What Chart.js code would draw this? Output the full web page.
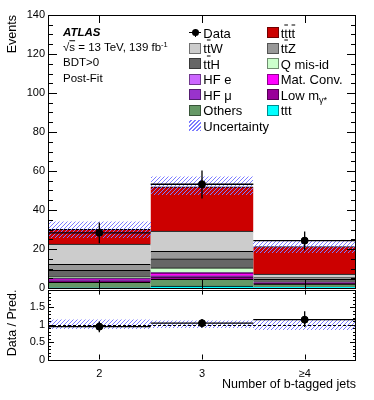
<!DOCTYPE html>
<html>
<head>
<meta charset="utf-8">
<script src="https://cdn.jsdelivr.net/npm/chart.js@4.4.1/dist/chart.umd.min.js"></script>
<style>
  body { margin: 0; background: #fff; font-family: "Liberation Sans", Arial, sans-serif; }
  #wrap { position: relative; width: 374px; height: 400px; overflow: hidden; }
  #mainChart { position: absolute; left: 0; top: 0; }
  #ratioChart { position: absolute; left: 0; top: 280px; }
  .txt { position: absolute; white-space: nowrap; color: #000; line-height: 1; transform: translateY(-50%); z-index: 2; }
  .box { position: absolute; width: 12px; height: 11px; box-sizing: border-box; border: 1px solid rgba(0,0,0,0.45); z-index: 2; }
  .ob { text-decoration: overline; }
  sup { font-size: 0.65em; vertical-align: 0.55em; line-height: 0; }
  sub { font-size: 0.7em; vertical-align: -0.35em; line-height: 0; }
</style>
</head>
<body>
<div id="wrap">
  <canvas id="mainChart" width="374" height="300"></canvas>
  <canvas id="ratioChart" width="374" height="120"></canvas>
</div>
<script>
// bins
const binLabels = ['2', '3', '\u22654'];

// stacked backgrounds, bottom to top (events per bin)
const ttt       = [0.1, 1.0, 0.6];
const others    = [2.8, 3.4, 1.4];
const lowMgamma = [0.7, 1.3, 0.4];
const hfMu      = [0.5, 0.6, 0.2];
const matConv   = [0.5, 1.5, 0.1];
const hfE       = [0.3, 0.3, 0.1];
const qMisId    = [0.8, 2.2, 0.3];
const ttH       = [3.3, 4.6, 1.3];
const ttZ       = [3.1, 3.9, 1.0];
const ttW       = [10.4, 10.4, 1.8];
const tttt      = [7.6, 22.7, 14.1];

// data with errors
const dataVals = [28.3, 53.2, 24.3];
const dataLo   = [23.0, 45.9, 19.3];
const dataHi   = [33.6, 60.2, 29.0];

// total prediction uncertainty
const bandLo = [25.5, 47.5, 18.1];
const bandHi = [34.6, 57.3, 24.4];

// ratio panel
const ratioVals   = [0.94, 1.04, 1.14];
const ratioLo     = [0.78, 0.91, 0.93];
const ratioHi     = [1.09, 1.16, 1.38];
const ratioBandLo = [0.86, 0.91, 0.85];
const ratioBandHi = [1.16, 1.13, 1.16];

const FONT = '"Liberation Sans", Arial, sans-serif';
const HATCH_COLOR = '#7b7bff';

const samples = [
  { key: 'ttt',    data: ttt,       color: '#00ffff', label: 'ttt' },
  { key: 'others', data: others,    color: '#669966', label: 'Others' },
  { key: 'low',    data: lowMgamma, color: '#990099', label: 'Low m<sub>\u03b3*</sub>' },
  { key: 'hfmu',   data: hfMu,      color: '#9933cc', label: 'HF \u03bc' },
  { key: 'mat',    data: matConv,   color: '#ff00ff', label: 'Mat. Conv.' },
  { key: 'hfe',    data: hfE,       color: '#cc66ff', label: 'HF e' },
  { key: 'qmis',   data: qMisId,    color: '#ccffcc', label: 'Q mis-id' },
  { key: 'tth',    data: ttH,       color: '#666666', label: 't<span class="ob">t</span>H' },
  { key: 'ttz',    data: ttZ,       color: '#999999', label: 't<span class="ob">t</span>Z' },
  { key: 'ttw',    data: ttW,       color: '#cccccc', label: 't<span class="ob">t</span>W' },
  { key: 'tttt',   data: tttt,      color: '#cc0000', label: 't<span class="ob">t</span>t<span class="ob">t</span>' },
];

// diagonal "///" hatch inside a rectangle, same phase everywhere
function hatchRect(ctx, x0, y0, w, h) {
  ctx.save();
  ctx.beginPath();
  ctx.rect(x0, y0, w, h);
  ctx.clip();
  ctx.strokeStyle = HATCH_COLOR;
  ctx.lineWidth = 1;
  ctx.beginPath();
  const step = 4;
  const bottom = y0 + h;
  // lines x + y = c, c a multiple of step
  const c0 = Math.floor((x0 + y0) / step) * step;
  for (let c = c0; c <= x0 + w + bottom + step; c += step) {
    ctx.moveTo(c - bottom + 0.5, bottom + 0.5);
    ctx.lineTo(c - y0 + 0.5, y0 + 0.5);
  }
  ctx.stroke();
  ctx.restore();
}

// hatch band + error bars, drawn just before the data points
function bandPlugin(lo, hi, errLo, errHi, vals, withUnity) {
  return {
    id: 'band',
    beforeDatasetDraw(chart, args) {
      if (args.meta.type !== 'line') return;
      const { ctx, scales: { x, y }, chartArea } = chart;
      ctx.save();
      for (let i = 0; i < lo.length; i++) {
        const x0 = Math.round(x.getPixelForValue(i - 0.5)), x1 = Math.round(x.getPixelForValue(i + 0.5));
        const y0 = Math.round(y.getPixelForValue(hi[i])), y1 = Math.round(y.getPixelForValue(lo[i]));
        hatchRect(ctx, x0, y0, x1 - x0, y1 - y0);
      }
      if (withUnity) {
        ctx.strokeStyle = '#000';
        ctx.lineWidth = 1;
        ctx.setLineDash([3, 2]);
        ctx.beginPath();
        const yy = Math.round(y.getPixelForValue(1)) + 0.5;
        ctx.moveTo(chartArea.left, yy);
        ctx.lineTo(chartArea.right, yy);
        ctx.stroke();
        ctx.setLineDash([]);
      }
      ctx.strokeStyle = '#000';
      ctx.lineWidth = 1.3;
      for (let i = 0; i < vals.length; i++) {
        const xc = x.getPixelForValue(i);
        const x0 = x.getPixelForValue(i - 0.5), x1 = x.getPixelForValue(i + 0.5);
        const yv = y.getPixelForValue(vals[i]);
        ctx.beginPath();
        ctx.moveTo(xc, y.getPixelForValue(errLo[i]));
        ctx.lineTo(xc, y.getPixelForValue(errHi[i]));
        ctx.moveTo(x0, yv);
        ctx.lineTo(x1, yv);
        ctx.stroke();
      }
      ctx.restore();
    }
  };
}

// ATLAS style frame with inward ticks
function framePlugin(majorStep, minorStep, majLen, minLen, xLen) {
  return {
    id: 'frame',
    afterDraw(chart) {
      const { ctx, scales: { x, y }, chartArea: a } = chart;
      ctx.save();
      ctx.strokeStyle = '#000';
      ctx.lineWidth = 1;
      ctx.strokeRect(Math.round(a.left) + 0.5, Math.round(a.top) + 0.5, Math.round(a.width) - 1, Math.round(a.height));
      ctx.beginPath();
      const n = Math.round((y.max - y.min) / minorStep);
      for (let k = 0; k <= n; k++) {
        const v = y.min + k * minorStep;
        const isMajor = Math.abs(v / majorStep - Math.round(v / majorStep)) < 1e-6;
        const len = isMajor ? majLen : minLen;
        const py = Math.round(y.getPixelForValue(v)) + 0.5;
        ctx.moveTo(a.left, py); ctx.lineTo(a.left + len, py);
        ctx.moveTo(a.right, py); ctx.lineTo(a.right - len, py);
      }
      for (let i = 0; i < chart.data.labels.length; i++) {
        const px = Math.round(x.getPixelForValue(i)) + 0.5;
        ctx.moveTo(px, a.top); ctx.lineTo(px, a.top + xLen);
        ctx.moveTo(px, a.bottom); ctx.lineTo(px, a.bottom - xLen);
      }
      ctx.stroke();
      ctx.restore();
    }
  };
}

const tickFont = { family: FONT, size: 11 };
const titleFont = { family: FONT, size: 12.5 };

const barSets = samples.map(s => ({
  type: 'bar',
  label: s.key,
  data: s.data,
  backgroundColor: s.color,
  borderColor: '#000',
  borderWidth: { top: 1, left: 0, right: 0, bottom: 0 },
  barPercentage: 1,
  categoryPercentage: 1,
  order: 1
}));

new Chart(document.getElementById('mainChart'), {
  type: 'bar',
  data: {
    labels: binLabels,
    datasets: [...barSets, {
      type: 'line',
      label: 'Data',
      data: dataVals,
      showLine: false,
      pointRadius: 3.5,
      pointBackgroundColor: '#000',
      pointBorderColor: '#000',
      order: -1
    }]
  },
  options: {
    responsive: false,
    animation: false,
    layout: { padding: { top: 15, right: 18, bottom: 12, left: 0 } },
    plugins: { legend: { display: false }, tooltip: { enabled: false } },
    scales: {
      x: { stacked: true, display: false, offset: true },
      y: {
        stacked: true, min: 0, max: 140,
        afterFit: s => { s.width = 48; },
        grid: { display: false, drawTicks: false },
        border: { display: false },
        ticks: { stepSize: 20, color: '#000', font: tickFont, padding: 3 },
        title: { display: true, text: 'Events', align: 'end', color: '#000', font: titleFont, padding: { top: 5, bottom: 0 } }
      }
    }
  },
  plugins: [bandPlugin(bandLo, bandHi, dataLo, dataHi, dataVals, false), framePlugin(20, 5, 9, 5, 8)]
});

new Chart(document.getElementById('ratioChart'), {
  type: 'line',
  data: {
    labels: binLabels,
    datasets: [{
      label: 'Data / Pred.',
      data: ratioVals,
      showLine: false,
      pointRadius: 3.5,
      pointBackgroundColor: '#000',
      pointBorderColor: '#000'
    }]
  },
  options: {
    responsive: false,
    animation: false,
    layout: { padding: { top: 9, right: 18, bottom: 0, left: 0 } },
    plugins: { legend: { display: false }, tooltip: { enabled: false } },
    scales: {
      x: {
        offset: true,
        afterFit: s => { s.height = 40.5; },
        grid: { display: false, drawTicks: false },
        border: { display: false },
        ticks: { color: '#000', font: tickFont, padding: 8 },
        title: { display: true, text: 'Number of b-tagged jets', align: 'end', color: '#000', font: titleFont, padding: { top: 0, bottom: 8 } }
      },
      y: {
        min: 0, max: 2,
        afterFit: s => { s.width = 48; },
        grid: { display: false, drawTicks: false },
        border: { display: false },
        ticks: { stepSize: 0.5, color: '#000', font: tickFont, padding: 3, callback: v => (v >= 2 ? '' : v) },
        title: { display: true, text: 'Data / Pred.', align: 'end', color: '#000', font: titleFont, padding: { top: 5, bottom: 0 } }
      }
    }
  },
  plugins: [bandPlugin(ratioBandLo, ratioBandHi, ratioLo, ratioHi, ratioVals, true), framePlugin(0.5, 0.1, 6, 3, 5)]
});

// text block and legend
const wrap = document.getElementById('wrap');
function addText(html, x, y, style) {
  const d = document.createElement('div');
  d.className = 'txt';
  d.innerHTML = html;
  d.style.left = x + 'px';
  d.style.top = y + 'px';
  Object.assign(d.style, style || {});
  wrap.appendChild(d);
  return d;
}
addText('ATLAS', 63, 32.7, { fontWeight: 'bold', fontStyle: 'italic', fontSize: '11.5px' });
addText('\u221a<span class="ob">s</span> = 13 TeV, 139 fb<sup>-1</sup>', 63, 48.3, { fontSize: '11.5px' });
addText('BDT&gt;0', 63, 63.2, { fontSize: '11.5px' });
addText('Post-Fit', 63, 79.0, { fontSize: '11.5px' });

const legendOrder = ['data', 'tttt', 'ttw', 'ttz', 'tth', 'qmis', 'hfe', 'mat', 'hfmu', 'low', 'others', 'ttt', 'unc'];
const colX = [189.3, 266.7];
legendOrder.forEach((key, i) => {
  const row = Math.floor(i / 2), col = i % 2;
  const cy = 32.7 + row * 15.5;
  const bx = colX[col];
  let label;
  if (key === 'data') {
    label = 'Data';
    const h = document.createElement('div');
    h.style.cssText = `position:absolute;left:${bx}px;top:${cy - 0.6}px;width:12px;height:1.3px;background:#000;z-index:2`;
    const v = document.createElement('div');
    v.style.cssText = `position:absolute;left:${bx + 5.4}px;top:${cy - 4}px;width:1.3px;height:8px;background:#000;z-index:2`;
    const dot = document.createElement('div');
    dot.style.cssText = `position:absolute;left:${bx + 2.5}px;top:${cy - 3.5}px;width:7px;height:7px;border-radius:50%;background:#000;z-index:2`;
    wrap.append(h, v, dot);
  } else if (key === 'unc') {
    label = 'Uncertainty';
    const b = document.createElement('div');
    b.className = 'box';
    b.style.cssText += `left:${bx}px;top:${cy - 5.5}px;border:none;background:repeating-linear-gradient(-45deg,${HATCH_COLOR} 0 1px,transparent 1px 2.8px)`;
    wrap.appendChild(b);
  } else {
    const s = samples.find(q => q.key === key);
    label = s.label;
    const b = document.createElement('div');
    b.className = 'box';
    b.style.left = bx + 'px';
    b.style.top = (cy - 5.5) + 'px';
    b.style.background = s.color;
    wrap.appendChild(b);
  }
  addText(label, bx + 14, cy, { fontSize: '13px' });
});
</script>
</body>
</html>
